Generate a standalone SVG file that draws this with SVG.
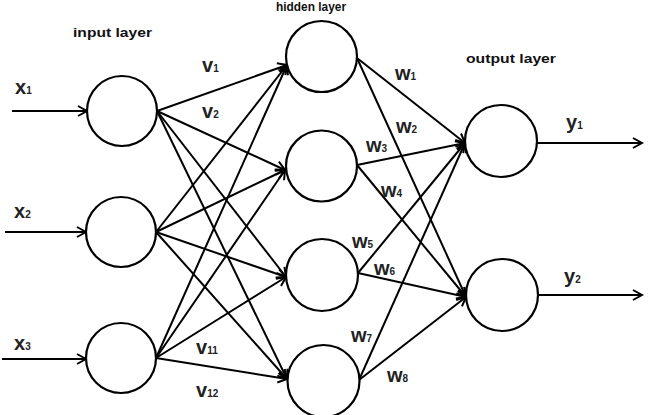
<svg xmlns="http://www.w3.org/2000/svg" width="653" height="415" viewBox="0 0 653 415">
<style>
.node{fill:#fff;stroke:#000;stroke-width:2.2}
.edge{stroke:#000;stroke-width:2;fill:none;marker-end:url(#arr)}
.lbl{font-family:"Liberation Sans",Arial,sans-serif;font-weight:bold;font-size:20px;fill:#222}
.sub{font-size:10px}
.ttl{font-family:"Liberation Sans",Arial,sans-serif;font-weight:bold;font-size:13px;fill:#111}
</style>
<defs>
<marker id="arr" markerUnits="userSpaceOnUse" markerWidth="14" markerHeight="14" viewBox="0 0 14 14" refX="12" refY="7" orient="auto">
<path d="M3,2 L12,7 L3,12" fill="none" stroke="#000" stroke-width="2"/>
</marker>
</defs>
<rect width="653" height="415" fill="#fff"/>
<g id="connectors">
<line class="edge" x1="12" y1="111" x2="87" y2="111"/>
<line class="edge" x1="5" y1="232" x2="86" y2="232"/>
<line class="edge" x1="2" y1="359" x2="86" y2="359"/>
<line class="edge" x1="157" y1="111" x2="287" y2="65"/>
<line class="edge" x1="157" y1="111" x2="285" y2="170"/>
<line class="edge" x1="157" y1="111" x2="286" y2="277"/>
<line class="edge" x1="157" y1="111" x2="287" y2="379"/>
<line class="edge" x1="156" y1="232" x2="287" y2="65"/>
<line class="edge" x1="156" y1="232" x2="285" y2="170"/>
<line class="edge" x1="156" y1="232" x2="286" y2="277"/>
<line class="edge" x1="156" y1="232" x2="287" y2="379"/>
<line class="edge" x1="156" y1="358" x2="287" y2="65"/>
<line class="edge" x1="156" y1="358" x2="285" y2="170"/>
<line class="edge" x1="156" y1="358" x2="286" y2="277"/>
<line class="edge" x1="156" y1="358" x2="287" y2="379"/>
<line class="edge" x1="357" y1="58" x2="465" y2="143"/>
<line class="edge" x1="357" y1="58" x2="466" y2="297"/>
<line class="edge" x1="357" y1="165" x2="465" y2="143"/>
<line class="edge" x1="357" y1="165" x2="466" y2="297"/>
<line class="edge" x1="358" y1="273" x2="465" y2="143"/>
<line class="edge" x1="358" y1="273" x2="466" y2="297"/>
<line class="edge" x1="359" y1="380" x2="465" y2="143"/>
<line class="edge" x1="359" y1="380" x2="466" y2="297"/>
<line class="edge" x1="537" y1="143" x2="642" y2="143"/>
<line class="edge" x1="538" y1="295" x2="642" y2="295"/>
</g>
<g id="input1"><circle class="node" cx="122" cy="111" r="35"/></g>
<g id="input2"><circle class="node" cx="121" cy="232" r="35"/></g>
<g id="input3"><circle class="node" cx="121" cy="358" r="35"/></g>
<g id="hidden1"><circle class="node" cx="321.5" cy="56.5" r="35.5"/></g>
<g id="hidden2"><circle class="node" cx="321.5" cy="166" r="35.5"/></g>
<g id="hidden3"><circle class="node" cx="322" cy="275" r="36"/></g>
<g id="hidden4"><circle class="node" cx="323.5" cy="381" r="36"/></g>
<g id="output1"><circle class="node" cx="501" cy="141" r="36"/></g>
<g id="output2"><circle class="node" cx="502" cy="295" r="36"/></g>
<g id="labels">
<text class="ttl" x="73" y="37" textLength="79" lengthAdjust="spacingAndGlyphs">input layer</text>
<text class="ttl" x="276" y="11" font-size="11" textLength="70" lengthAdjust="spacingAndGlyphs">hidden layer</text>
<text class="ttl" x="466" y="63" textLength="90" lengthAdjust="spacingAndGlyphs">output layer</text>
<text class="lbl" x="15" y="94">x<tspan class="sub">1</tspan></text>
<text class="lbl" x="14" y="218">x<tspan class="sub">2</tspan></text>
<text class="lbl" x="14" y="350">x<tspan class="sub">3</tspan></text>
<text class="lbl" x="202" y="72">v<tspan class="sub">1</tspan></text>
<text class="lbl" x="202" y="118">v<tspan class="sub">2</tspan></text>
<text class="lbl" x="196" y="354">v<tspan class="sub">11</tspan></text>
<text class="lbl" x="196" y="397">v<tspan class="sub">12</tspan></text>
<text class="lbl" x="395" y="80">w<tspan class="sub">1</tspan></text>
<text class="lbl" x="396" y="133">w<tspan class="sub">2</tspan></text>
<text class="lbl" x="366" y="152">w<tspan class="sub">3</tspan></text>
<text class="lbl" x="381" y="197">w<tspan class="sub">4</tspan></text>
<text class="lbl" x="352" y="248">w<tspan class="sub">5</tspan></text>
<text class="lbl" x="374" y="275">w<tspan class="sub">6</tspan></text>
<text class="lbl" x="351" y="342">w<tspan class="sub">7</tspan></text>
<text class="lbl" x="387" y="382">w<tspan class="sub">8</tspan></text>
<text class="lbl" x="566" y="129">y<tspan class="sub">1</tspan></text>
<text class="lbl" x="564" y="283">y<tspan class="sub">2</tspan></text>
</g>
</svg>
